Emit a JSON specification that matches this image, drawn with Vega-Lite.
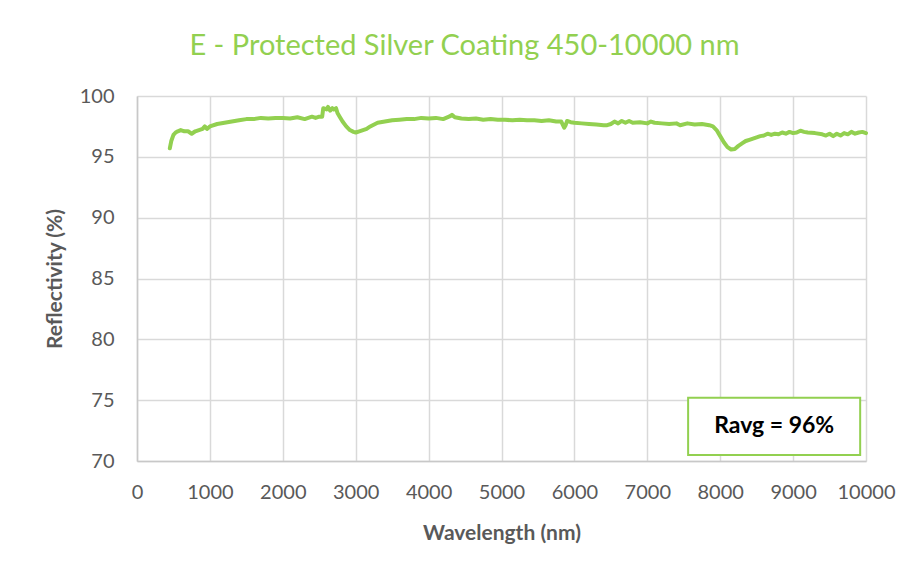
{
  "$schema": "https://vega.github.io/schema/vega-lite/v6.json",
  "autosize": "none",
  "width": 729,
  "height": 365,
  "padding": {"left": 137, "top": 96, "right": 51, "bottom": 117},
  "background": "white",
  "title": {
    "text": "E - Protected Silver Coating 450-10000 nm",
    "font": "Lato",
    "fontSize": 29,
    "fontWeight": "normal",
    "color": "#92D050",
    "anchor": "middle",
    "dx": -37,
    "offset": 25
  },
  "config": {
    "view": {"stroke": null},
    "font": "Lato",
    "axis": {
      "labelFont": "Lato",
      "labelFontSize": 20,
      "labelColor": "#595959",
      "titleFont": "Lato",
      "titleFontSize": 21,
      "titleFontWeight": "bold",
      "titleColor": "#595959",
      "domainColor": "#c8c8c8",
      "domainWidth": 1.5,
      "gridColor": "#d9d9d9",
      "gridWidth": 1.5,
      "ticks": false
    }
  },
  "datasets": {
    "curve": [
      {"wl": 450, "r": 95.7}, {"wl": 470, "r": 96.3}, {"wl": 500, "r": 96.8}, {"wl": 530, "r": 97.0},
      {"wl": 560, "r": 97.1}, {"wl": 600, "r": 97.2}, {"wl": 650, "r": 97.1}, {"wl": 700, "r": 97.1},
      {"wl": 750, "r": 96.9}, {"wl": 800, "r": 97.1}, {"wl": 850, "r": 97.2}, {"wl": 900, "r": 97.3},
      {"wl": 930, "r": 97.5}, {"wl": 960, "r": 97.3}, {"wl": 1000, "r": 97.5}, {"wl": 1100, "r": 97.7},
      {"wl": 1200, "r": 97.8}, {"wl": 1300, "r": 97.9}, {"wl": 1400, "r": 98.0}, {"wl": 1500, "r": 98.1},
      {"wl": 1600, "r": 98.1}, {"wl": 1700, "r": 98.2}, {"wl": 1800, "r": 98.15}, {"wl": 1900, "r": 98.2},
      {"wl": 2000, "r": 98.2}, {"wl": 2100, "r": 98.15}, {"wl": 2200, "r": 98.25}, {"wl": 2300, "r": 98.1},
      {"wl": 2400, "r": 98.3}, {"wl": 2450, "r": 98.2}, {"wl": 2500, "r": 98.3}, {"wl": 2540, "r": 98.3},
      {"wl": 2555, "r": 99.0}, {"wl": 2600, "r": 98.9}, {"wl": 2620, "r": 99.1}, {"wl": 2650, "r": 98.8},
      {"wl": 2680, "r": 99.0}, {"wl": 2700, "r": 98.9}, {"wl": 2730, "r": 99.0}, {"wl": 2750, "r": 98.6},
      {"wl": 2780, "r": 98.3}, {"wl": 2820, "r": 97.9}, {"wl": 2870, "r": 97.5}, {"wl": 2920, "r": 97.2},
      {"wl": 2970, "r": 97.05}, {"wl": 3000, "r": 97.0}, {"wl": 3050, "r": 97.1}, {"wl": 3100, "r": 97.2},
      {"wl": 3150, "r": 97.3}, {"wl": 3200, "r": 97.5}, {"wl": 3300, "r": 97.8}, {"wl": 3400, "r": 97.9},
      {"wl": 3500, "r": 98.0}, {"wl": 3600, "r": 98.05}, {"wl": 3700, "r": 98.1}, {"wl": 3800, "r": 98.1},
      {"wl": 3900, "r": 98.2}, {"wl": 4000, "r": 98.15}, {"wl": 4100, "r": 98.2}, {"wl": 4200, "r": 98.1},
      {"wl": 4280, "r": 98.3}, {"wl": 4320, "r": 98.45}, {"wl": 4360, "r": 98.25}, {"wl": 4450, "r": 98.15},
      {"wl": 4550, "r": 98.1}, {"wl": 4650, "r": 98.15}, {"wl": 4750, "r": 98.05}, {"wl": 4850, "r": 98.1},
      {"wl": 4950, "r": 98.05}, {"wl": 5050, "r": 98.05}, {"wl": 5150, "r": 98.0}, {"wl": 5250, "r": 98.05},
      {"wl": 5350, "r": 98.0}, {"wl": 5450, "r": 98.0}, {"wl": 5550, "r": 97.95}, {"wl": 5650, "r": 98.0},
      {"wl": 5750, "r": 97.9}, {"wl": 5820, "r": 97.9}, {"wl": 5860, "r": 97.4}, {"wl": 5880, "r": 97.6},
      {"wl": 5900, "r": 97.95}, {"wl": 5950, "r": 97.85}, {"wl": 6000, "r": 97.8}, {"wl": 6100, "r": 97.75},
      {"wl": 6200, "r": 97.7}, {"wl": 6300, "r": 97.65}, {"wl": 6400, "r": 97.6}, {"wl": 6450, "r": 97.6},
      {"wl": 6500, "r": 97.7}, {"wl": 6550, "r": 97.9}, {"wl": 6600, "r": 97.75}, {"wl": 6650, "r": 97.95},
      {"wl": 6700, "r": 97.8}, {"wl": 6750, "r": 97.95}, {"wl": 6800, "r": 97.8}, {"wl": 6900, "r": 97.85},
      {"wl": 7000, "r": 97.75}, {"wl": 7050, "r": 97.9}, {"wl": 7100, "r": 97.8}, {"wl": 7200, "r": 97.75},
      {"wl": 7300, "r": 97.7}, {"wl": 7400, "r": 97.75}, {"wl": 7450, "r": 97.6}, {"wl": 7550, "r": 97.75},
      {"wl": 7650, "r": 97.65}, {"wl": 7750, "r": 97.7}, {"wl": 7850, "r": 97.6}, {"wl": 7900, "r": 97.5},
      {"wl": 7950, "r": 97.2}, {"wl": 8000, "r": 96.7}, {"wl": 8050, "r": 96.2}, {"wl": 8100, "r": 95.8},
      {"wl": 8150, "r": 95.6}, {"wl": 8200, "r": 95.65}, {"wl": 8250, "r": 95.9}, {"wl": 8300, "r": 96.1},
      {"wl": 8350, "r": 96.3}, {"wl": 8400, "r": 96.4}, {"wl": 8450, "r": 96.5}, {"wl": 8500, "r": 96.6},
      {"wl": 8550, "r": 96.7}, {"wl": 8600, "r": 96.75}, {"wl": 8650, "r": 96.9}, {"wl": 8700, "r": 96.8},
      {"wl": 8750, "r": 96.9}, {"wl": 8800, "r": 96.85}, {"wl": 8850, "r": 97.0}, {"wl": 8900, "r": 96.9},
      {"wl": 8950, "r": 97.05}, {"wl": 9000, "r": 96.95}, {"wl": 9050, "r": 97.0}, {"wl": 9100, "r": 97.15},
      {"wl": 9150, "r": 97.05}, {"wl": 9200, "r": 97.0}, {"wl": 9300, "r": 96.95}, {"wl": 9400, "r": 96.85},
      {"wl": 9450, "r": 96.75}, {"wl": 9500, "r": 96.9}, {"wl": 9550, "r": 96.7}, {"wl": 9600, "r": 96.9},
      {"wl": 9650, "r": 96.75}, {"wl": 9700, "r": 96.95}, {"wl": 9750, "r": 96.85}, {"wl": 9800, "r": 97.05},
      {"wl": 9850, "r": 96.9}, {"wl": 9900, "r": 97.0}, {"wl": 9950, "r": 97.05}, {"wl": 10000, "r": 96.95}
    ],
    "note": [
      {"x1": 7560, "x2": 9920, "y1": 70.5, "y2": 75.2, "xc": 8740, "yc": 72.85, "label": "Ravg = 96%"}
    ]
  },
  "layer": [
    {
      "data": {"name": "curve"},
      "mark": {"type": "line", "color": "#92D050", "strokeWidth": 4, "strokeJoin": "round", "strokeCap": "round"},
      "encoding": {
        "x": {
          "field": "wl", "type": "quantitative",
          "scale": {"domain": [0, 10000], "nice": false},
          "axis": {"values": [0,1000,2000,3000,4000,5000,6000,7000,8000,9000,10000], "format": "d", "title": "Wavelength (nm)", "labelPadding": 21, "titlePadding": 20, "labelFlush": false}
        },
        "y": {
          "field": "r", "type": "quantitative",
          "scale": {"domain": [70, 100], "nice": false, "zero": false},
          "axis": {"values": [70,75,80,85,90,95,100], "title": "Reflectivity (%)", "labelPadding": 23, "titlePadding": 14}
        }
      }
    },
    {
      "data": {"name": "note"},
      "mark": {"type": "rect", "fill": "white", "stroke": "#92D050", "strokeWidth": 2},
      "encoding": {
        "x": {"field": "x1", "type": "quantitative"},
        "x2": {"field": "x2"},
        "y": {"field": "y1", "type": "quantitative"},
        "y2": {"field": "y2"}
      }
    },
    {
      "data": {"name": "note"},
      "mark": {"type": "text", "font": "Lato", "fontSize": 23, "fontWeight": "bold", "color": "black", "align": "center", "baseline": "middle"},
      "encoding": {
        "x": {"field": "xc", "type": "quantitative"},
        "y": {"field": "yc", "type": "quantitative"},
        "text": {"field": "label"}
      }
    }
  ]
}
